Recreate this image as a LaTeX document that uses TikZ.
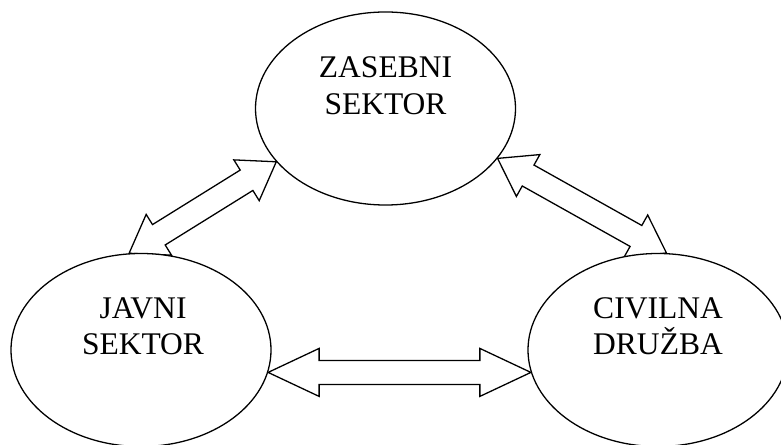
\documentclass[tikz,border=0pt]{standalone}
\usepackage{fontspec}
\setmainfont{Liberation Serif}
\usetikzlibrary{calc,shapes.geometric,backgrounds}

\begin{document}
\begin{tikzpicture}[x=0.03cm, y=0.03cm,
  sektor/.style={ellipse, draw, fill=white, line width=1.1pt, minimum width=7.8cm,
                 minimum height=5.79cm, inner sep=0pt},
  naziv/.style={anchor=north, inner sep=0pt, align=center,
                font=\fontsize{26.9}{31.2}\selectfont},
  glava/.store in=\glava, glava=1.05cm,
  dvosmerna/.style={draw, fill=white, line width=1.1pt,
    to path={(\tikztostart)
      -- ($(\tikztostart)!\glava!(\tikztotarget)!0.72cm!90:(\tikztotarget)$)
      -- ($(\tikztostart)!\glava!(\tikztotarget)!0.36cm!90:(\tikztotarget)$)
      -- ($(\tikztotarget)!\glava!(\tikztostart)!0.36cm!-90:(\tikztostart)$)
      -- ($(\tikztotarget)!\glava!(\tikztostart)!0.72cm!-90:(\tikztostart)$)
      -- (\tikztotarget)
      -- ($(\tikztotarget)!\glava!(\tikztostart)!0.72cm!90:(\tikztostart)$)
      -- ($(\tikztotarget)!\glava!(\tikztostart)!0.36cm!90:(\tikztostart)$)
      -- ($(\tikztostart)!\glava!(\tikztotarget)!0.36cm!-90:(\tikztotarget)$)
      -- ($(\tikztostart)!\glava!(\tikztotarget)!0.72cm!-90:(\tikztotarget)$)
      -- cycle}}
]
  \useasboundingbox (0,0) rectangle (781,444);

  \node[sektor] (zas) at (385.5,335.5) {};
  \node[sektor] (jav) at (141,94) {};
  \node[sektor] (civ) at (658,94) {};

  \node[naziv] (zasN) at ($(zas)+(0,52)$) {ZASEBNI\\SEKTOR};
  \node[naziv] (javN) at ($(jav)+(2,53)$) {JAVNI\\SEKTOR};
  \node[naziv] (civN) at ($(civ)+(0,53)$) {CIVILNA\\DRUŽBA};

  % povezave med sektorji
  \begin{scope}[on background layer]
    \draw[dvosmerna] (zas.206) to (jav.97);
    \draw[dvosmerna] (zas.336) to (civ.85);
    \draw[dvosmerna, glava=1.53cm] (jav.-10) to (civ.190);
  \end{scope}
\end{tikzpicture}
\end{document}
